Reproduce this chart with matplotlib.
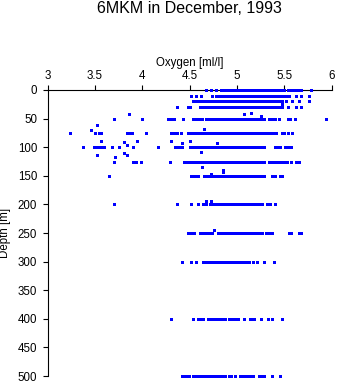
import matplotlib
matplotlib.use("Agg")
import matplotlib.pyplot as plt

plt.rcParams['font.family'] = ['Liberation Sans', 'DejaVu Sans']

title = "6MKM in December, 1993"
xlabel = "Oxygen [ml/l]"
ylabel = "Depth [m]"
xticks = [3, 3.5, 4, 4.5, 5, 5.5, 6]
xticklabels = ["3", "3.5", "4", "4.5", "5", "5.5", "6"]
yticks = [0, 50, 100, 150, 200, 250, 300, 350, 400, 450, 500]

# Oxygen values per standard depth
d0 = [4.67, 4.72, 4.78, 4.83, 4.85, 4.88, 4.90, 4.92, 4.95, 4.97, 4.99, 5.01, 5.04, 5.06,
      5.08, 5.10, 5.13, 5.15, 5.17, 5.19, 5.22, 5.24, 5.26, 5.28, 5.31, 5.33, 5.35, 5.37,
      5.40, 5.42, 5.45, 5.48, 5.50, 5.54, 5.56, 5.59, 5.61, 5.64, 5.66, 5.68, 5.78]
d10 = [4.51, 4.57, 4.62, 4.74, 4.78, 4.80, 4.83, 4.85, 4.87, 4.90, 4.92, 4.94, 4.97, 4.99,
       5.01, 5.04, 5.06, 5.08, 5.11, 5.13, 5.15, 5.18, 5.20, 5.22, 5.25, 5.27, 5.29, 5.32,
       5.34, 5.36, 5.39, 5.41, 5.43, 5.45, 5.47, 5.50, 5.52, 5.55, 5.62, 5.68, 5.76]
d20 = [4.53, 4.55, 4.58, 4.60, 4.62, 4.65, 4.67, 4.69, 4.72, 4.74, 4.76, 4.79, 4.81, 4.83,
       4.86, 4.88, 4.90, 4.93, 4.95, 4.97, 5.00, 5.02, 5.04, 5.07, 5.09, 5.11, 5.14, 5.16,
       5.18, 5.21, 5.23, 5.25, 5.28, 5.30, 5.32, 5.35, 5.37, 5.39, 5.42, 5.44, 5.47, 5.52,
       5.58, 5.65, 5.76]
d30 = [4.37, 4.48, 4.50, 4.61, 4.63, 4.66, 4.68, 4.70, 4.73, 4.75, 4.77, 4.80, 4.82, 4.84,
       4.87, 4.89, 4.91, 4.94, 4.96, 4.98, 5.01, 5.03, 5.05, 5.08, 5.10, 5.12, 5.15, 5.17,
       5.19, 5.22, 5.24, 5.26, 5.29, 5.31, 5.33, 5.36, 5.38, 5.40, 5.43, 5.45, 5.48, 5.54,
       5.62, 5.68]
d50 = [3.70, 4.00, 4.27, 4.30, 4.33, 4.43, 4.53, 4.56, 4.58, 4.61, 4.63, 4.67, 4.69, 4.72,
       4.74, 4.76, 4.79, 4.81, 4.83, 4.86, 4.88, 4.90, 4.93, 4.95, 4.97, 5.00, 5.02, 5.04,
       5.07, 5.09, 5.11, 5.14, 5.16, 5.18, 5.21, 5.23, 5.25, 5.28, 5.34, 5.36, 5.38, 5.40,
       5.44, 5.54, 5.56, 5.61, 5.94]
d75 = [3.24, 3.50, 3.54, 3.56, 3.84, 3.86, 3.89, 4.04, 4.30, 4.32, 4.35, 4.37, 4.41, 4.48,
       4.51, 4.53, 4.56, 4.58, 4.61, 4.63, 4.66, 4.68, 4.71, 4.73, 4.76, 4.78, 4.80, 4.83,
       4.85, 4.88, 4.90, 4.92, 4.95, 4.97, 5.00, 5.02, 5.04, 5.07, 5.09, 5.12, 5.14, 5.16,
       5.19, 5.21, 5.24, 5.26, 5.28, 5.31, 5.33, 5.36, 5.38, 5.41, 5.47, 5.50, 5.54, 5.58]
d100 = [3.37, 3.49, 3.52, 3.55, 3.57, 3.60, 3.68, 3.75, 3.90, 4.17, 4.35, 4.37, 4.40, 4.42,
        4.50, 4.52, 4.55, 4.57, 4.60, 4.62, 4.64, 4.67, 4.69, 4.71, 4.74, 4.76, 4.78, 4.81,
        4.83, 4.86, 4.88, 4.90, 4.93, 4.95, 4.98, 5.00, 5.02, 5.05, 5.07, 5.10, 5.12, 5.14,
        5.17, 5.19, 5.22, 5.24, 5.26, 5.29, 5.40, 5.42, 5.45, 5.51, 5.54, 5.57]
d125 = [3.70, 3.90, 3.93, 3.99, 4.29, 4.44, 4.46, 4.49, 4.51, 4.53, 4.56, 4.58, 4.61, 4.63,
        4.65, 4.68, 4.70, 4.73, 4.75, 4.77, 4.80, 4.82, 4.85, 4.87, 4.89, 4.92, 4.94, 4.97,
        4.99, 5.01, 5.04, 5.06, 5.08, 5.11, 5.13, 5.16, 5.18, 5.21, 5.24, 5.26, 5.28, 5.34,
        5.36, 5.38, 5.40, 5.43, 5.45, 5.48, 5.51, 5.53, 5.57, 5.62, 5.65]
d150 = [3.65, 4.51, 4.54, 4.56, 4.59, 4.65, 4.67, 4.70, 4.72, 4.74, 4.77, 4.79, 4.82, 4.85,
        4.87, 4.90, 4.92, 4.95, 4.97, 5.00, 5.02, 5.05, 5.07, 5.10, 5.12, 5.15, 5.17, 5.20,
        5.22, 5.25, 5.28, 5.37, 5.40, 5.45, 5.48]
d200 = [3.70, 4.37, 4.51, 4.59, 4.64, 4.67, 4.71, 4.74, 4.77, 4.79, 4.82, 4.84, 4.87, 4.89,
        4.92, 4.94, 4.97, 4.99, 5.01, 5.04, 5.06, 5.09, 5.11, 5.14, 5.16, 5.19, 5.21, 5.24,
        5.26, 5.32, 5.35, 5.40]
d250 = [4.48, 4.51, 4.55, 4.61, 4.63, 4.66, 4.68, 4.71, 4.74, 4.80, 4.82, 4.85, 4.87,
        4.90, 4.93, 4.96, 4.98, 5.01, 5.04, 5.06, 5.09, 5.12, 5.15, 5.18, 5.20, 5.23, 5.26,
        5.31, 5.34, 5.37, 5.55, 5.57, 5.65, 5.68]
d300 = [4.42, 4.51, 4.57, 4.64, 4.66, 4.69, 4.72, 4.74, 4.77, 4.79, 4.82, 4.85, 4.88,
        4.91, 4.93, 4.96, 4.98, 5.00, 5.03, 5.05, 5.08, 5.10, 5.13, 5.17, 5.21, 5.29, 5.39]
d400 = [4.30, 4.54, 4.59, 4.62, 4.64, 4.69, 4.71, 4.74, 4.76, 4.79, 4.81, 4.84, 4.87, 4.92,
        4.95, 4.97, 4.99, 5.01, 5.07, 5.14, 5.16, 5.18, 5.25, 5.33, 5.37, 5.48]
d500 = [4.42, 4.44, 4.46, 4.49, 4.54, 4.56, 4.59, 4.61, 4.64, 4.66, 4.69, 4.71, 4.74, 4.76,
        4.79, 4.81, 4.84, 4.87, 4.91, 4.94, 4.98, 5.03, 5.05, 5.08, 5.10, 5.13, 5.15, 5.17,
        5.23, 5.26, 5.29, 5.37, 5.45]

rows = {0: d0, 10: d10, 20: d20, 30: d30, 50: d50, 75: d75, 100: d100, 125: d125,
        150: d150, 200: d200, 250: d250, 300: d300, 400: d400, 500: d500}

# Scattered samples at non-standard depths
extra_depth = [25, 42, 42, 41, 46, 61, 70, 68, 90, 91, 90, 90, 92, 89, 93, 97,
               110, 114, 114, 118, 109, 135, 140, 144, 147, 194, 194, 245]
extra_oxy = [5.47, 3.86, 5.07, 5.15, 5.25, 3.52, 3.46, 4.65, 3.56, 3.81, 3.94, 4.30, 4.42,
             4.50, 4.79, 3.84, 3.81, 3.84, 3.52, 3.71, 4.62, 4.63, 4.85, 4.85, 4.72, 4.67,
             4.72, 4.76]

xs, ys = [], []
for d, vals in rows.items():
    xs.extend(vals)
    ys.extend([d] * len(vals))
xs.extend(extra_oxy)
ys.extend(extra_depth)

W, H = 338, 384
fig = plt.figure(figsize=(W / 100, H / 100), dpi=100)
L, R, T, B = 47.7, 331.7, 90, 376
ax = fig.add_axes([L / W, 1 - B / H, (R - L) / W, (B - T) / H])

ax.plot(xs, ys, linestyle='none', marker='s', markersize=2.16, markeredgewidth=0,
        color='#0000ff', clip_on=False, antialiased=False, zorder=5)

ax.set_xlim(3, 6)
ax.set_ylim(500, 0)
ax.xaxis.tick_top()
ax.xaxis.set_label_position('top')
ax.set_xticks(xticks)
ax.set_xticklabels(xticklabels)
ax.set_yticks(yticks)
for s in ['right', 'bottom']:
    ax.spines[s].set_visible(False)
for s in ['left', 'top']:
    ax.spines[s].set_linewidth(0.8)
    ax.spines[s].set_zorder(2)
ax.tick_params(axis='both', direction='out', length=3.6, width=0.8, labelsize=8.3,
               colors='black')
ax.tick_params(axis='x', pad=2.0)
ax.tick_params(axis='y', pad=4.0)
ax.set_xlabel(xlabel, fontsize=8.3)
ax.set_ylabel(ylabel, fontsize=8.3)
ax.xaxis.set_label_coords(0.5, 1 + (90 - 66) / 286)
ax.yaxis.set_label_coords((11 - L) / (R - L), 0.5)

fig.text((L + R) / 2 / W, 1 - 8.5 / H, title, ha='center', va='center', fontsize=11.5)

fig.savefig("out.png", dpi=100)
